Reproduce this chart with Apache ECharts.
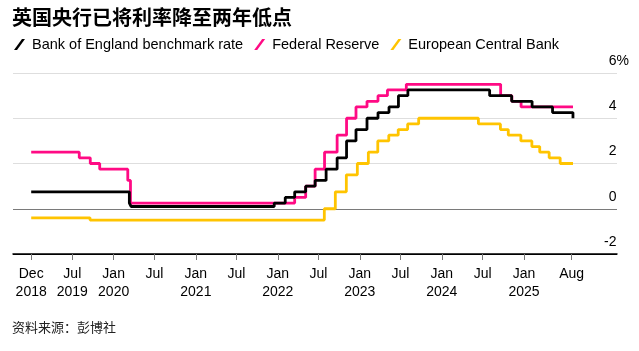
<!DOCTYPE html>
<html>
<head>
<meta charset="utf-8">
<script src="https://cdn.jsdelivr.net/npm/echarts@6/dist/echarts.min.js"></script>
<style>
html,body{margin:0;padding:0;background:#fff;}
#chart{width:639px;height:351px;}
</style>
</head>
<body>
<div id="chart"></div>
<script>
// ---- data ----
const titleText = '英国央行已将利率降至两年低点';
const sourceText = '资料来源：彭博社';
const seriesNames = ['Bank of England benchmark rate', 'Federal Reserve', 'European Central Bank'];

const startDate = '2018-12-30';
const endDate = '2025-08-07';

const boeDates = [startDate, '2020-03-11', '2020-03-19', '2021-12-16', '2022-02-03', '2022-03-17', '2022-05-05', '2022-06-16', '2022-08-04', '2022-09-22', '2022-11-03', '2022-12-15', '2023-02-02', '2023-03-23', '2023-05-11', '2023-06-22', '2023-08-03', '2024-08-01', '2024-11-07', '2025-02-06', '2025-05-08', endDate];
const boeRates = [0.75, 0.25, 0.10, 0.25, 0.50, 0.75, 1.00, 1.25, 1.75, 2.25, 3.00, 3.50, 4.00, 4.25, 4.50, 5.00, 5.25, 5.00, 4.75, 4.50, 4.25, 4.00];

const fedDates = [startDate, '2019-08-01', '2019-09-19', '2019-10-31', '2020-03-04', '2020-03-16', '2022-03-17', '2022-05-05', '2022-06-16', '2022-07-28', '2022-09-22', '2022-11-03', '2022-12-15', '2023-02-02', '2023-03-23', '2023-05-04', '2023-07-27', '2024-09-19', '2024-11-08', '2024-12-19', endDate];
const fedRates = [2.50, 2.25, 2.00, 1.75, 1.25, 0.25, 0.50, 1.00, 1.75, 2.50, 3.25, 4.00, 4.50, 4.75, 5.00, 5.25, 5.50, 5.00, 4.75, 4.50, 4.50];

const ecbDates = [startDate, '2019-09-18', '2022-07-27', '2022-09-14', '2022-11-02', '2022-12-21', '2023-02-08', '2023-03-22', '2023-05-10', '2023-06-21', '2023-08-02', '2023-09-20', '2024-06-12', '2024-09-18', '2024-10-23', '2024-12-18', '2025-02-05', '2025-03-12', '2025-04-23', '2025-06-11', endDate];
const ecbRates = [-0.40, -0.50, 0.00, 0.75, 1.50, 2.00, 2.50, 3.00, 3.25, 3.50, 3.75, 4.00, 3.75, 3.50, 3.25, 3.00, 2.75, 2.50, 2.25, 2.00, 2.00];

const xTickDates = ['2018-12-30', '2019-07-01', '2020-01-01', '2020-07-01', '2021-01-01', '2021-07-01', '2022-01-01', '2022-07-01', '2023-01-01', '2023-07-01', '2024-01-01', '2024-07-01', '2025-01-01', '2025-08-01'];
const xTickLabels = ['Dec\n2018', 'Jul\n2019', 'Jan\n2020', 'Jul', 'Jan\n2021', 'Jul', 'Jan\n2022', 'Jul', 'Jan\n2023', 'Jul', 'Jan\n2024', 'Jul', 'Jan\n2025', 'Aug'];

const yTicks = [-2, 0, 2, 4, 6];

// ---- build ----
const ts = d => Date.parse(d + 'T00:00:00Z');
const pairs = (ds, vs) => ds.map((d, i) => [ts(d), vs[i]]);
const tickTs = xTickDates.map(ts);
const labelMap = {};
tickTs.forEach((t, i) => { labelMap[t] = xTickLabels[i]; });

const colors = { boe: '#000000', fed: '#ff0a84', ecb: '#ffc400' };
const slash = 'path://M0,11 L3,11 L11,0 L8,0 Z';
const font = 'Liberation Sans, Arial, Helvetica, sans-serif';

const chart = echarts.init(document.getElementById('chart'), null, { renderer: 'canvas' });
chart.setOption({
  animation: false,
  backgroundColor: '#ffffff',
  textStyle: { fontFamily: font },
  title: [
    { text: titleText, left: 12, top: 7, padding: 0, textStyle: { fontFamily: 'Noto Sans CJK SC', fontSize: 20, fontWeight: 'bold', color: '#000' } },
    { text: sourceText, left: 12, top: 321, padding: 0, textStyle: { fontFamily: 'Noto Sans CJK SC', fontSize: 13, fontWeight: 'normal', color: '#222' } }
  ],
  legend: {
    data: seriesNames,
    left: 14, top: 37, padding: 0,
    icon: slash,
    itemWidth: 11, itemHeight: 11,
    itemGap: 11,
    textStyle: { fontFamily: font, fontSize: 14.5, color: '#000', padding: [0, 0, 0, 2] },
    selectedMode: false
  },
  grid: { left: 13, right: 22, top: 73, bottom: 97, containLabel: false },
  xAxis: {
    type: 'value',
    min: ts('2018-10-10'),
    max: ts('2026-02-19'),
    axisLine: { show: true, onZero: false, lineStyle: { color: '#000', width: 1.5 } },
    axisTick: { show: true, customValues: tickTs, length: 6, lineStyle: { color: '#777', width: 1 } },
    axisLabel: {
      customValues: tickTs,
      formatter: v => labelMap[v] || '',
      fontFamily: font, fontSize: 14, color: '#000', lineHeight: 18, margin: 11
    },
    splitLine: { show: false }
  },
  yAxis: {
    type: 'value',
    position: 'right',
    min: -2, max: 6, interval: 2,
    axisLine: { show: false },
    axisTick: { show: false },
    axisLabel: {
      inside: true,
      margin: -12,
      verticalAlign: 'bottom',
      padding: [0, 0, 5, 0],
      fontFamily: font, fontSize: 14, color: '#000',
      formatter: v => v === 6 ? '6%' : v + '{h|%}',
      rich: {
        h: { fontFamily: font, fontSize: 14, color: 'rgba(0,0,0,0)' }
      }
    },
    splitLine: { show: true, lineStyle: { color: ['#000', '#7a7a7a', '#dedede', '#dedede', '#dedede'], width: 1.2 } }
  },
  series: [
    { name: seriesNames[2], type: 'line', step: 'end', showSymbol: false, symbol: 'none', data: pairs(ecbDates, ecbRates), color: colors.ecb, itemStyle: { color: colors.ecb }, lineStyle: { color: colors.ecb, width: 2.8 }, z: 2 },
    { name: seriesNames[1], type: 'line', step: 'end', showSymbol: false, symbol: 'none', data: pairs(fedDates, fedRates), color: colors.fed, itemStyle: { color: colors.fed }, lineStyle: { color: colors.fed, width: 2.8 }, z: 3 },
    { name: seriesNames[0], type: 'line', step: 'end', showSymbol: false, symbol: 'none', data: pairs(boeDates, boeRates), color: colors.boe, itemStyle: { color: colors.boe }, lineStyle: { color: colors.boe, width: 2.8 }, z: 4 }
  ]
});
</script>
</body>
</html>
